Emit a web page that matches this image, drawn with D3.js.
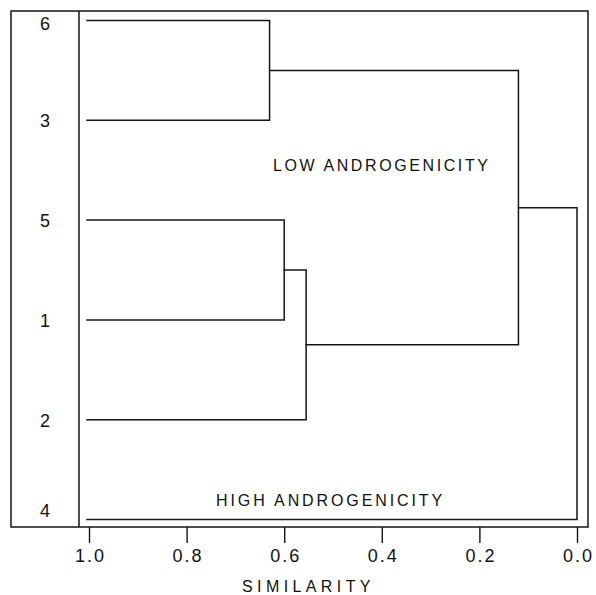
<!DOCTYPE html>
<html>
<head>
<meta charset="utf-8">
<script src="https://cdn.jsdelivr.net/npm/d3@7"></script>
<style>
  html, body { margin: 0; padding: 0; background: #fff; }
  svg { display: block; }
  text { font-family: "Liberation Sans", Arial, sans-serif; fill: #111; }
</style>
</head>
<body>
<svg id="chart" width="596" height="595"></svg>
<script>
// Leaf order top to bottom
const leaves = ["6", "3", "5", "1", "2", "4"];
// Agglomeration steps: the two clusters joined and the similarity at which they join
const mergeA = ["6", "5", "5+1", "6+3", "6+3+5+1+2"];
const mergeB = ["3", "1", "2", "5+1+2", "4"];
const mergeSimilarity = [0.63, 0.60, 0.555, 0.12, 0.0];
// Axis ticks
const tickValues = [1.0, 0.8, 0.6, 0.4, 0.2, 0.0];
const groupLabels = ["LOW ANDROGENICITY", "HIGH ANDROGENICITY"];
const axisTitle = "SIMILARITY";

const svg = d3.select("#chart");
const ink = "#151515";

const box = { left: 11, right: 588, top: 11, bottom: 527, labelCol: 79 };

const x = d3.scaleLinear().domain([1, 0]).range([89, 577]);
const y = d3.scalePoint().domain(leaves).range([20.5, 519.5]);

// Frame: outer box and the divider for the leaf-label column
const frame = svg.append("g")
  .attr("fill", "none").attr("stroke", ink).attr("stroke-width", 1.5);
frame.append("rect")
  .attr("x", box.left).attr("y", box.top)
  .attr("width", box.right - box.left).attr("height", box.bottom - box.top);
frame.append("line")
  .attr("x1", box.labelCol).attr("x2", box.labelCol)
  .attr("y1", box.top).attr("y2", box.bottom);

// Node positions: leaves start at similarity 1.0, clusters at the midpoint of their children
const nodes = new Map();
leaves.forEach(id => nodes.set(id, { id, s: 1.0, y: y(id) }));

const links = svg.append("g")
  .attr("fill", "none").attr("stroke", ink).attr("stroke-width", 1.5)
  .attr("stroke-linecap", "square");

mergeA.forEach((a, i) => {
  const b = mergeB[i];
  const na = nodes.get(a), nb = nodes.get(b);
  const s = mergeSimilarity[i];
  const px = x(s);
  const startX = n => leaves.includes(n.id) ? x(n.s) - 2 : x(n.s);
  const path = d3.path();
  path.moveTo(startX(na), na.y);
  path.lineTo(px, na.y);
  path.lineTo(px, nb.y);
  path.lineTo(startX(nb), nb.y);
  links.append("path").attr("d", path.toString());
  const id = a + "+" + b;
  nodes.set(id, { id, s, y: (na.y + nb.y) / 2 });
});

// Leaf labels, kept inside the frame at the ends
svg.append("g").selectAll("text")
  .data(leaves)
  .join("text")
  .attr("x", 45)
  .attr("y", d => Math.min(Math.max(y(d) + 1, box.top + 13), box.bottom - 16))
  .attr("text-anchor", "middle")
  .attr("dominant-baseline", "central")
  .attr("font-size", 18)
  .text(d => d);

// Cluster annotations
svg.append("text")
  .attr("x", 273).attr("y", 171)
  .attr("font-size", 16).attr("letter-spacing", 2.6)
  .text(groupLabels[0]);
svg.append("text")
  .attr("x", 216).attr("y", 506)
  .attr("font-size", 16).attr("letter-spacing", 2.9)
  .text(groupLabels[1]);

// Similarity axis
const axis = svg.append("g")
  .attr("transform", `translate(0,${box.bottom})`)
  .call(d3.axisBottom(x)
    .tickValues(tickValues)
    .tickSize(16)
    .tickPadding(6)
    .tickFormat(d3.format(".1f")));
axis.select(".domain").remove();
axis.selectAll(".tick line").attr("stroke", ink).attr("stroke-width", 1.4);
axis.selectAll(".tick text")
  .attr("font-family", "'Liberation Sans', Arial, sans-serif")
  .attr("font-size", 18)
  .attr("letter-spacing", 2)
  .attr("dx", 1)
  .attr("fill", ink);

svg.append("text")
  .attr("x", 242).attr("y", 592)
  .attr("font-size", 16).attr("letter-spacing", 4.4)
  .text(axisTitle);
</script>
</body>
</html>
